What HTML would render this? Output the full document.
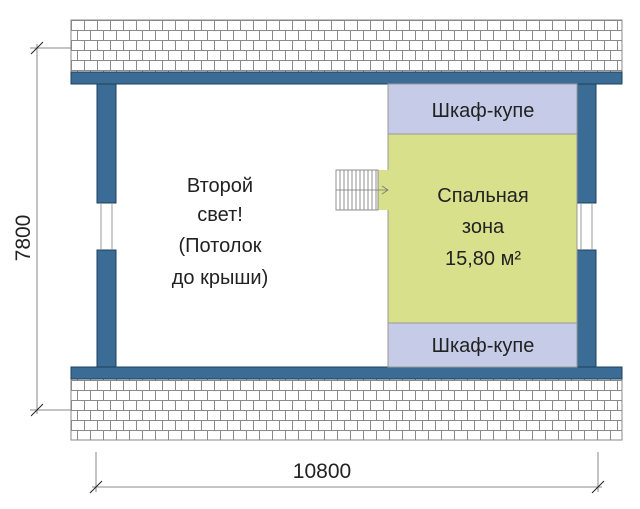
<!DOCTYPE html>
<html><head><meta charset="utf-8"><style>body{margin:0;background:#fff}svg{display:block}text{font-family:"Liberation Sans Narrow","Liberation Sans",sans-serif;fill:#222}</style></head><body>
<svg width="640" height="509" viewBox="0 0 640 509" xmlns="http://www.w3.org/2000/svg">
<defs>
<pattern id="br" x="71" y="20" width="26" height="20" patternUnits="userSpaceOnUse">
<rect width="26" height="20" fill="#fff"/>
<path d="M0 0.5H26M0 10.5H26M0.5 0V10M13.5 0V10M6.5 10V20M19.5 10V20" stroke="#8a8a8a" stroke-width="1" fill="none"/>
</pattern>
</defs>
<rect x="71" y="20" width="551" height="52" fill="url(#br)" stroke="#888"/>
<rect x="71" y="379" width="551" height="61" fill="url(#br)" stroke="#888"/>
<rect x="71" y="72" width="551" height="12" fill="#3a6c95" stroke="#1f3f5c"/>
<rect x="71" y="367" width="551" height="12" fill="#3a6c95" stroke="#1f3f5c"/>
<rect x="97" y="84" width="19" height="119" fill="#3a6c95" stroke="#1f3f5c"/>
<rect x="97" y="250" width="19" height="117" fill="#3a6c95" stroke="#1f3f5c"/>
<path d="M101 203V250M112 203V250" stroke="#999"/>
<rect x="577" y="84" width="19" height="119" fill="#3a6c95" stroke="#1f3f5c"/>
<rect x="577" y="250" width="19" height="117" fill="#3a6c95" stroke="#1f3f5c"/>
<path d="M581 203V250M592 203V250" stroke="#999"/>
<rect x="388" y="84" width="189" height="50" fill="#c6cce8" stroke="#999"/>
<rect x="388" y="134" width="189" height="189" fill="#d9e08c" stroke="#999"/>
<rect x="388" y="323" width="189" height="44" fill="#c6cce8" stroke="#999"/>
<rect x="378" y="170" width="11" height="40" fill="#d9e08c"/>
<g stroke="#777" stroke-width="0.8">
<rect x="336" y="170" width="42" height="40" fill="#fff"/>
<path d="M340 170V210M344 170V210M348 170V210M352 170V210M356 170V210M360 170V210M364 170V210M368 170V210M372 170V210M376 170V210"/>
<path d="M336 190H388M382 186L388 190L382 194" fill="none"/>
</g>
<text x="220" y="192" font-size="20" text-anchor="middle">Второй</text>
<text x="220" y="221" font-size="20" text-anchor="middle">свет!</text>
<text x="220" y="252" font-size="20" text-anchor="middle">(Потолок</text>
<text x="220" y="284" font-size="20" text-anchor="middle">до крыши)</text>
<text x="483" y="117" font-size="20" text-anchor="middle">Шкаф-купе</text>
<text x="483" y="202" font-size="20" text-anchor="middle">Спальная</text>
<text x="483" y="233" font-size="20" text-anchor="middle">зона</text>
<text x="483" y="265" font-size="20" text-anchor="middle">15,80 м²</text>
<text x="483" y="352" font-size="20" text-anchor="middle">Шкаф-купе</text>
<g stroke="#888" fill="none">
<path d="M37 44V414M30 48H72M30 410H72"/>
<path d="M31 54L43 42M31 416L43 404" stroke="#222"/>
<path d="M92 487H602M96 452V492M598 452V492"/>
<path d="M90 493L102 481M592 493L604 481" stroke="#222"/>
</g>
<text x="322" y="478" font-size="21" text-anchor="middle">10800</text>
<text transform="translate(30,238) rotate(-90)" font-size="21" text-anchor="middle">7800</text>
</svg>
</body></html>
